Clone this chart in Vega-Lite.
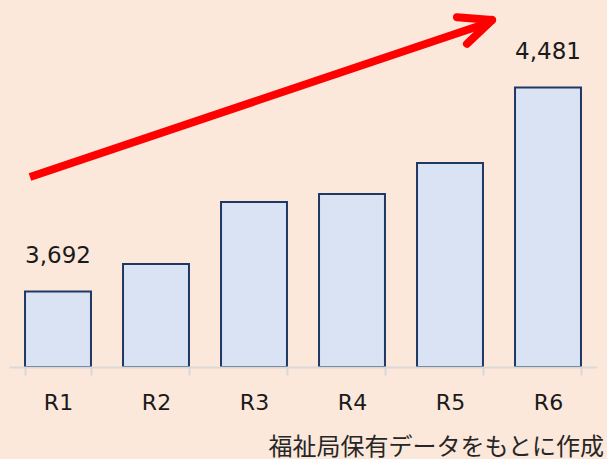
{
  "$schema": "https://vega.github.io/schema/vega-lite/v6.json",
  "width": 588,
  "height": 362,
  "padding": {"left": 9, "top": 5, "right": 10, "bottom": 0},
  "background": "#fce8da",
  "config": {"view": {"stroke": null}, "font": "DejaVu Sans"},
  "title": {
    "text": "福祉局保有データをもとに作成",
    "orient": "bottom",
    "anchor": "end",
    "font": "Noto Sans CJK JP",
    "fontSize": 24,
    "fontWeight": "normal",
    "color": "#262626",
    "offset": 23,
    "dx": 7
  },
  "datasets": {
    "bars": [
      {"period": "R1", "value": 3692},
      {"period": "R2", "value": 3798},
      {"period": "R3", "value": 4038},
      {"period": "R4", "value": 4069},
      {"period": "R5", "value": 4189},
      {"period": "R6", "value": 4481}
    ],
    "shaft": [
      {"order": 0, "px": 0.714, "py": 4135},
      {"order": 1, "px": 5.40, "py": 4732}
    ],
    "head": [
      {"part": "arm1", "order": 0, "px": 5.071, "py": 4753},
      {"part": "arm1", "order": 1, "px": 5.429, "py": 4742},
      {"part": "arm2", "order": 0, "px": 5.173, "py": 4650},
      {"part": "arm2", "order": 1, "px": 5.429, "py": 4742}
    ]
  },
  "layer": [
    {
      "layer": [
        {
          "data": {"name": "bars"},
          "mark": {"type": "bar", "fill": "#dae3f3", "stroke": "#1f3864", "strokeWidth": 2},
          "encoding": {
            "x": {
              "field": "period", "type": "nominal", "sort": null,
              "scale": {"paddingInner": 0.327, "paddingOuter": 0.1635},
              "axis": {
                "title": null, "labelAngle": 0, "labelFontSize": 22, "labelColor": "#1a1a1a",
                "domainColor": "#d9d9d9", "domainWidth": 2, "tickColor": "#d9d9d9", "tickWidth": 2,
                "tickSize": 8, "tickBand": "extent", "labelPadding": 17, "zindex": 1
              }
            },
            "y": {
              "field": "value", "type": "quantitative",
              "scale": {"domain": [3400, 4800], "zero": false, "nice": false},
              "axis": null
            },
            "y2": {"datum": 3400}
          }
        },
        {
          "data": {"name": "bars"},
          "transform": [{"filter": "datum.period == 'R1' || datum.period == 'R6'"}],
          "mark": {"type": "text", "fontSize": 23, "dy": -28, "baseline": "alphabetic", "color": "#1a1a1a"},
          "encoding": {
            "x": {"field": "period", "type": "nominal", "sort": null},
            "y": {"field": "value", "type": "quantitative"},
            "text": {"field": "value", "type": "quantitative", "format": ",d"}
          }
        }
      ]
    },
    {
      "data": {"name": "shaft"},
      "mark": {"type": "line", "color": "#ff0000", "strokeWidth": 8, "strokeCap": "butt"},
      "encoding": {
        "x": {"field": "px", "type": "quantitative", "scale": {"domain": [0.5, 6.5], "nice": false, "zero": false}, "axis": null},
        "y": {"field": "py", "type": "quantitative"},
        "order": {"field": "order"}
      }
    },
    {
      "data": {"name": "head"},
      "mark": {"type": "line", "color": "#ff0000", "strokeWidth": 8, "strokeCap": "round", "strokeJoin": "round"},
      "encoding": {
        "x": {"field": "px", "type": "quantitative", "scale": {"domain": [0.5, 6.5], "nice": false, "zero": false}, "axis": null},
        "y": {"field": "py", "type": "quantitative"},
        "detail": {"field": "part"},
        "order": {"field": "order"}
      }
    }
  ],
  "resolve": {"scale": {"x": "independent"}}
}
